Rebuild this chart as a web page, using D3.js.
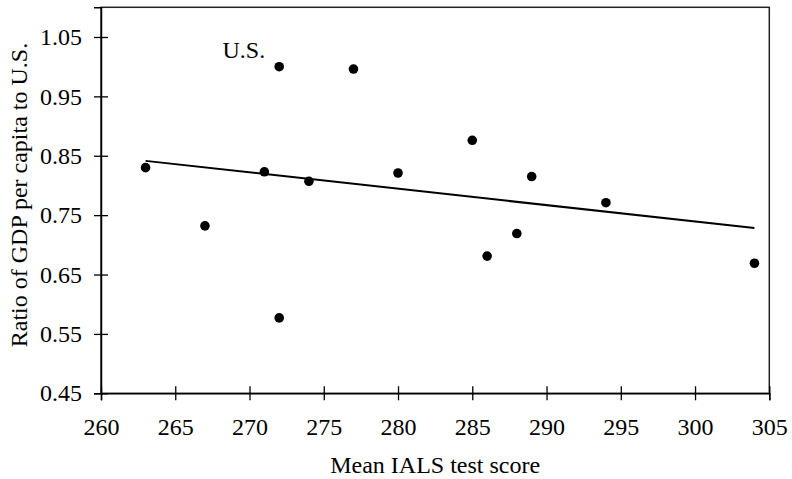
<!DOCTYPE html>
<html>
<head>
<meta charset="utf-8">
<script src="https://cdn.jsdelivr.net/npm/d3@7"></script>
<style>
body { margin: 0; background: #fff; }
text { font-family: "Liberation Serif", "Times New Roman", serif; fill: #000; }
</style>
</head>
<body>
<div id="chart"></div>
<script>
// mean IALS score vs GDP per capita ratio to U.S.
var scores = [263, 267, 271, 272, 272, 274, 277, 280, 285, 286, 288, 289, 294, 304];
var ratios = [0.830, 0.732, 0.823, 1.000, 0.577, 0.807, 0.996, 0.821, 0.876, 0.681, 0.719, 0.815, 0.771, 0.669];
var labels = ["", "", "", "U.S.", "", "", "", "", "", "", "", "", "", ""];
var xTicks = [260, 265, 270, 275, 280, 285, 290, 295, 300, 305];
var yTicks = [0.45, 0.55, 0.65, 0.75, 0.85, 0.95, 1.05];

var width = 792, height = 479;
var plotL = 101, plotR = 769.3, plotT = 7.3, plotB = 393.3;
var fs = 24;

var svg = d3.select("#chart")
	.append("svg")
	.attr("width", width)
	.attr("height", height);

var x = d3.scaleLinear()
	.domain([260, 305])
	.range([plotL, plotR]);
var y = d3.scaleLinear()
	.domain([0.45, 1.1])
	.range([plotB, plotT]);

// frame
svg.append("rect")
	.attr("x", plotL)
	.attr("y", plotT)
	.attr("width", plotR - plotL)
	.attr("height", plotB - plotT)
	.attr("fill", "none")
	.attr("stroke", "#222")
	.attr("stroke-width", 1.5);

var xAxis = svg.append("g")
	.attr("transform", "translate(0," + plotB + ")")
	.call(d3.axisBottom(x)
		.tickValues(xTicks)
		.tickSize(7)
		.tickPadding(18)
		.tickFormat(d3.format("d")));
xAxis.selectAll("line").attr("y1", -7).attr("stroke", "#000").attr("stroke-width", 1.3);

var yAxis = svg.append("g")
	.attr("transform", "translate(" + plotL + ",0)")
	.call(d3.axisLeft(y)
		.tickValues(yTicks)
		.tickSize(7)
		.tickPadding(12)
		.tickFormat(d3.format(".2f")));
yAxis.selectAll("line").attr("x1", 7).attr("stroke", "#000").attr("stroke-width", 1.3);

svg.selectAll(".domain").attr("stroke", "#000").attr("stroke-width", 1.5);
svg.selectAll("g").attr("font-family", null);
svg.selectAll(".tick text")
	.style("font-size", fs + "px")
	.attr("fill", "#000");

// least squares trend line
var mx = d3.mean(scores), my = d3.mean(ratios);
var sxy = d3.sum(scores, function(d, i) { return (d - mx) * (ratios[i] - my); });
var sxx = d3.sum(scores, function(d) { return (d - mx) * (d - mx); });
var slope = sxy / sxx, icpt = my - slope * mx;
var ext = d3.extent(scores);
svg.append("path")
	.datum(ext)
	.attr("d", d3.line()
		.x(function(d) { return x(d); })
		.y(function(d) { return y(icpt + slope * d); }))
	.attr("fill", "none")
	.attr("stroke", "#000")
	.attr("stroke-width", 2);

svg.append("g")
	.selectAll("circle")
	.data(scores)
	.enter()
	.append("circle")
	.attr("cx", function(d) { return x(d); })
	.attr("cy", function(d, i) { return y(ratios[i]); })
	.attr("r", 4.8)
	.attr("fill", "#000");

svg.append("g")
	.selectAll("text")
	.data(scores)
	.enter()
	.append("text")
	.attr("x", function(d) { return x(d) - 14; })
	.attr("y", function(d, i) { return y(ratios[i]) - 9; })
	.attr("text-anchor", "end")
	.style("font-size", fs + "px")
	.text(function(d, i) { return labels[i]; });

svg.append("text")
	.attr("x", (plotL + plotR) / 2)
	.attr("y", 473)
	.attr("text-anchor", "middle")
	.style("font-size", fs + "px")
	.text("Mean IALS test score");

svg.append("text")
	.attr("transform", "translate(27,195) rotate(-90)")
	.attr("text-anchor", "middle")
	.style("font-size", fs + "px")
	.text("Ratio of GDP per capita to U.S.");
</script>
</body>
</html>
